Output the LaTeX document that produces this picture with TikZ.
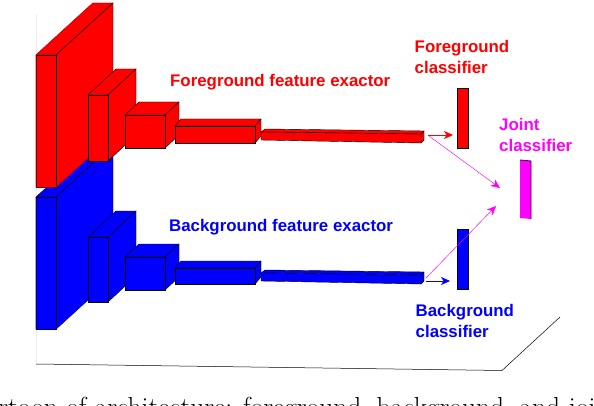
\documentclass[tikz,border=0pt]{standalone}
\usepackage{fontspec}
\setsansfont{Liberation Sans}
\usetikzlibrary{arrows.meta}
\definecolor{magj}{RGB}{255,0,255}
% \boxthree{colour}{front x1}{front x2}{y top}{y bottom}{dx}{dy}
\newcommand{\boxthree}[7]{%
  \filldraw[slabline,fill=#1] (#2,#4) -- ++(#6,#7) -- ++(#3-#2,0) -- (#3,#4) -- cycle;
  \filldraw[slabline,fill=#1] (#3,#4) -- ++(#6,#7) -- ++(0,#5-#4) -- (#3,#5) -- cycle;
  \filldraw[slabline,fill=#1] (#2,#4) -- (#3,#4) -- (#3,#5) -- (#2,#5) -- cycle;
}
\tikzset{
  slabline/.style={draw=black,line width=0.4pt,line join=miter},
  softedge/.style={line width=0.7pt},
  head/.style={font=\sffamily\bfseries\fontsize{16.85}{20}\selectfont,inner sep=0pt,anchor=base west},
  classbar/.style={draw=black,line width=0.8pt,minimum width=11pt,inner sep=0pt},
  feed/.style={line width=0.45pt,-{Stealth[inset=2.6pt,length=9pt,width=8pt]}}
}
\begin{document}
\begin{tikzpicture}[x=1pt,y=-1pt,line cap=butt]
\useasboundingbox (0,0) rectangle (594,406);
\clip (0,0) rectangle (594,406);
% floor
\draw[black!8,line width=0.4pt] (36,14) -- (36,364);
\coordinate (fa) at (36,364);
\coordinate (fb) at (502,370.5);
\coordinate (fc) at (560,317);
\draw[black,line width=0.5pt] (fa) -- (fb) -- (fc);
% blue stream
\boxthree{blue}{36}{56}{197}{329}{57}{-52}
\draw[softedge,blue] (36,197) -- (36,329) -- (56,329) -- (113,277);
\boxthree{blue}{88}{108}{237}{302}{28}{-26}
\boxthree{blue}{125}{165}{257}{290}{14}{-13}
\boxthree{blue}{175}{255}{268}{284}{6}{-7}
\filldraw[slabline,fill=blue] (261,273) -- (265,270) -- (424,272) -- (421,275) -- cycle;
\filldraw[slabline,fill=blue] (421,275) -- (424,272) -- (424,281) -- (421,284) -- cycle;
\filldraw[slabline,fill=blue] (261,273) -- (421,275) -- (421,284) -- (261,281) -- cycle;
% red stream
\boxthree{red}{36}{56}{55}{187}{57}{-52}
\draw[softedge,red] (36,55) -- (36,187) -- (56,187) -- (113,135);
\draw[softedge,red] (36,55) -- (93,3);
\boxthree{red}{88}{108}{95}{161}{28}{-26}
\boxthree{red}{125}{165}{115}{148}{14}{-13}
\boxthree{red}{175}{255}{126}{143}{6}{-7}
\filldraw[slabline,fill=red] (261,132) -- (265,129) -- (424,131) -- (421,134) -- cycle;
\filldraw[slabline,fill=red] (421,134) -- (424,131) -- (424,140) -- (421,143) -- cycle;
\filldraw[slabline,fill=red] (261,132) -- (421,134) -- (421,143) -- (261,140) -- cycle;
% classifiers
\node[classbar,fill=red,minimum height=60pt] (fgc) at (463,118) {};
\node[classbar,fill=blue,minimum height=60pt] (bgc) at (463,259) {};
\fill[magj] (520,160) -- (531,161) -- (531,219) -- (520,218) -- cycle;
\draw[black!70!magj,line width=0.9pt] (520,160) -- (531,161) -- (531,219);
% labels
\node[head,text=red] (lf) at (170,87) {Foreground feature exactor};
\node[head,text=blue] (lb) at (169,231) {Background feature exactor};
\node[head,text=red] (lfc1) at (414.5,53) {Foreground};
\node[head,text=red] (lfc2) at (414.5,74) {classifier};
\node[head,text=blue] (lbc1) at (415.5,316) {Background};
\node[head,text=blue] (lbc2) at (415.5,337) {classifier};
\node[head,text=magj] (lj1) at (499,131) {Joint};
\node[head,text=magj] (lj2) at (499,152) {classifier};
% connectors
\coordinate (rs) at (428,135);
\coordinate (rt) at (453,135);
\coordinate (bs) at (426,281);
\coordinate (bt) at (450,281);
\coordinate (ms1) at (429,136);
\coordinate (mt1) at (500,188);
\coordinate (ms2) at (426,278);
\coordinate (mt2) at (496,206);
\draw[feed,red] (rs) -- (rt);
\draw[feed,blue] (bs) -- (bt);
\draw[feed,magj] (ms1) -- (mt1);
\draw[feed,magj] (ms2) -- (mt2);
% caption, cut off by the picture's edges
\node[inner sep=0pt,anchor=base,font=\fontsize{27.5}{32}\selectfont] (cap) at (297,416.5) {rtoon of architecture: foreground, background, and joi};
\end{tikzpicture}
\end{document}
